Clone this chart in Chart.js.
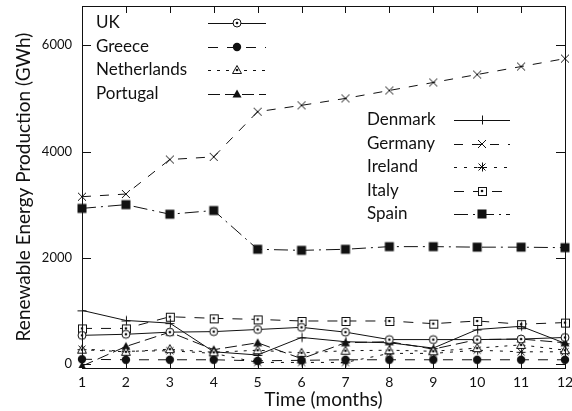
<!DOCTYPE html>
<html>
<head>
<meta charset="utf-8">
<script src="https://cdn.jsdelivr.net/npm/chart.js@4.4.1/dist/chart.umd.min.js"></script>
<style>
  html, body { margin: 0; padding: 0; background: #fff; }
  #wrap { width: 572px; height: 411px; position: relative; }
</style>
</head>
<body>
<div id="wrap"><canvas id="energyChart"></canvas></div>
<script>
// months on the x axis
const months = ['1', '2', '3', '4', '5', '6', '7', '8', '9', '10', '11', '12'];
const yTickValues = [0, 2000, 4000, 6000];

// GWh per month
const ukData          = [540, 560, 600, 610, 650, 690, 600, 460, 460, 460, 470, 500];
const greeceData      = [90, 80, 80, 80, 60, 70, 80, 80, 80, 80, 80, 80];
const netherlandsData = [270, 230, 280, 220, 260, 210, 250, 260, 240, 300, 360, 260];
const portugalData    = [-40, 330, 600, 270, 400, 100, 400, 420, 280, 460, 470, 400];
const denmarkData     = [1010, 820, 770, 230, 170, 500, 420, 400, 300, 650, 710, 390];
const germanyData     = [3150, 3200, 3850, 3900, 4750, 4870, 5000, 5150, 5300, 5450, 5600, 5750];
const irelandData     = [280, 240, 250, 200, 30, 30, 30, 200, 200, 260, 230, 230];
const italyData       = [670, 670, 890, 860, 840, 810, 810, 810, 760, 810, 750, 780];
const spainData       = [2930, 3000, 2820, 2890, 2160, 2140, 2160, 2210, 2210, 2200, 2200, 2190];

const INK = '#111';

// gnuplot-like point symbols drawn on small canvases
function makeMarker(kind) {
  const c = document.createElement('canvas');
  c.width = 14; c.height = 14;
  const g = c.getContext('2d');
  const m = 7;
  g.strokeStyle = INK;
  g.fillStyle = INK;
  g.lineWidth = 1;
  const dot = () => { g.beginPath(); g.arc(m, m, 1.3, 0, Math.PI * 2); g.fillStyle = INK; g.fill(); };
  const tri = () => { g.beginPath(); g.moveTo(m, m - 4.5); g.lineTo(m + 4.5, m + 3.5); g.lineTo(m - 4.5, m + 3.5); g.closePath(); };
  switch (kind) {
    case 'circleDot':
      g.beginPath(); g.arc(m, m, 4, 0, Math.PI * 2);
      g.fillStyle = '#fff'; g.fill(); g.stroke(); dot();
      break;
    case 'circleFill':
      g.beginPath(); g.arc(m, m, 4.2, 0, Math.PI * 2); g.fill();
      break;
    case 'triDot':
      tri(); g.fillStyle = '#fff'; g.fill(); g.stroke(); dot();
      break;
    case 'triFill':
      tri(); g.fill();
      break;
    case 'plus':
      g.beginPath(); g.moveTo(m - 4.5, m + 0.5); g.lineTo(m + 4.5, m + 0.5); g.moveTo(m + 0.5, m - 4.5); g.lineTo(m + 0.5, m + 4.5); g.stroke();
      break;
    case 'cross':
      g.beginPath(); g.moveTo(m - 4, m - 4); g.lineTo(m + 4, m + 4); g.moveTo(m + 4, m - 4); g.lineTo(m - 4, m + 4); g.stroke();
      break;
    case 'star':
      g.beginPath();
      g.moveTo(m - 4.5, m + 0.5); g.lineTo(m + 4.5, m + 0.5); g.moveTo(m + 0.5, m - 4.5); g.lineTo(m + 0.5, m + 4.5);
      g.moveTo(m - 3.5, m - 3.5); g.lineTo(m + 3.5, m + 3.5); g.moveTo(m + 3.5, m - 3.5); g.lineTo(m - 3.5, m + 3.5);
      g.stroke();
      break;
    case 'boxDot':
      g.fillStyle = '#fff'; g.fillRect(m - 4, m - 4, 8, 8);
      g.strokeRect(m - 3.5, m - 3.5, 8, 8); dot();
      break;
    case 'boxFill':
      g.fillRect(m - 4.5, m - 4.5, 9, 9);
      break;
  }
  return c;
}

function series(label, data, dash, kind) {
  return {
    label: label,
    data: data,
    borderColor: INK,
    backgroundColor: INK,
    borderWidth: 1,
    borderDash: dash,
    pointStyle: makeMarker(kind),
    pointRadius: 5,
    tension: 0,
    fill: false
  };
}

const datasets = [
  series('UK', ukData, [], 'circleDot'),
  series('Greece', greeceData, [10, 9], 'circleFill'),
  series('Netherlands', netherlandsData, [3, 6], 'triDot'),
  series('Portugal', portugalData, [12, 5], 'triFill'),
  series('Denmark', denmarkData, [], 'plus'),
  series('Germany', germanyData, [9, 9], 'cross'),
  series('Ireland', irelandData, [3, 7], 'star'),
  series('Italy', italyData, [10, 9], 'boxDot'),
  series('Spain', spainData, [14, 5, 2, 5], 'boxFill')
];

// frame with inward ticks on all four sides, plus the two legend blocks
const framePlugin = {
  id: 'framePlugin',
  afterDraw(chart, args, opts) {
    const ctx = chart.ctx;
    const a = chart.chartArea;
    const xs = chart.scales.x;
    const ys = chart.scales.y;
    ctx.save();
    ctx.strokeStyle = INK;
    ctx.lineWidth = 1;
    ctx.setLineDash([]);
    ctx.strokeRect(Math.round(a.left) + 0.5, Math.round(a.top) + 0.5,
      Math.round(a.right - a.left), Math.round(a.bottom - a.top));
    ctx.beginPath();
    xs.ticks.forEach((t, i) => {
      const px = Math.round(xs.getPixelForTick(i)) + 0.5;
      ctx.moveTo(px, a.bottom); ctx.lineTo(px, a.bottom - 7);
      ctx.moveTo(px, a.top); ctx.lineTo(px, a.top + 7);
    });
    ys.ticks.forEach((t) => {
      const py = Math.round(ys.getPixelForValue(t.value)) + 0.5;
      ctx.moveTo(a.left, py); ctx.lineTo(a.left + 9, py);
      ctx.moveTo(a.right, py); ctx.lineTo(a.right - 9, py);
    });
    ctx.stroke();

    ctx.font = '17px Lato';
    ctx.textBaseline = 'middle';
    ctx.textAlign = 'left';
    opts.blocks.forEach((b) => {
      b.items.forEach((idx, row) => {
        const ds = chart.data.datasets[idx];
        const y = Math.round(b.y0 + row * b.dy);
        ctx.fillStyle = INK;
        ctx.fillText(ds.label, b.textX, y);
        ctx.beginPath();
        ctx.setLineDash(ds.borderDash);
        ctx.moveTo(b.lineX1, y + 0.5);
        ctx.lineTo(b.lineX2, y + 0.5);
        ctx.stroke();
        ctx.setLineDash([]);
        const img = ds.pointStyle;
        const mx = Math.round((b.lineX1 + b.lineX2) / 2);
        ctx.drawImage(img, mx - img.width / 2, y - img.height / 2);
      });
    });
    ctx.restore();
  }
};

new Chart(document.getElementById('energyChart'), {
  type: 'line',
  data: { labels: months, datasets: datasets },
  options: {
    responsive: true,
    maintainAspectRatio: false,
    animation: false,
    layout: { padding: { top: 5, right: 7, left: 0, bottom: 0 } },
    plugins: {
      legend: { display: false },
      tooltip: { enabled: false },
      framePlugin: {
        blocks: [
          { items: [0, 1, 2, 3], textX: 96, lineX1: 208, lineX2: 266, y0: 23, dy: 23.7 },
          { items: [4, 5, 6, 7, 8], textX: 367, lineX1: 454, lineX2: 510, y0: 120, dy: 23.6 }
        ]
      }
    },
    scales: {
      x: {
        type: 'category',
        offset: false,
        grid: { display: false, drawTicks: false },
        border: { display: false },
        ticks: { color: INK, font: { family: 'Lato', size: 14 }, padding: 6, maxRotation: 0, autoSkip: false },
        title: { display: true, text: 'Time (months)', color: INK, font: { family: 'Lato', size: 19 }, padding: { top: 0, bottom: 0 } },
        afterFit: (s) => { s.height = 43; s.paddingLeft = 0; s.paddingRight = 0; }
      },
      y: {
        min: -75,
        max: 6740,
        grid: { display: false, drawTicks: false },
        border: { display: false },
        ticks: {
          color: INK,
          font: { family: 'Lato', size: 13 },
          padding: 10,
          callback: (v) => String(v)
        },
        afterBuildTicks: (s) => { s.ticks = yTickValues.map((v) => ({ value: v })); },
        title: { display: true, text: 'Renewable Energy Production (GWh)', color: INK, font: { family: 'Lato', size: 19 }, padding: { top: 12, bottom: 0 } },
        afterFit: (s) => { s.width = 82; s.paddingTop = 0; s.paddingBottom = 0; }
      }
    }
  },
  plugins: [framePlugin]
});
</script>
</body>
</html>
